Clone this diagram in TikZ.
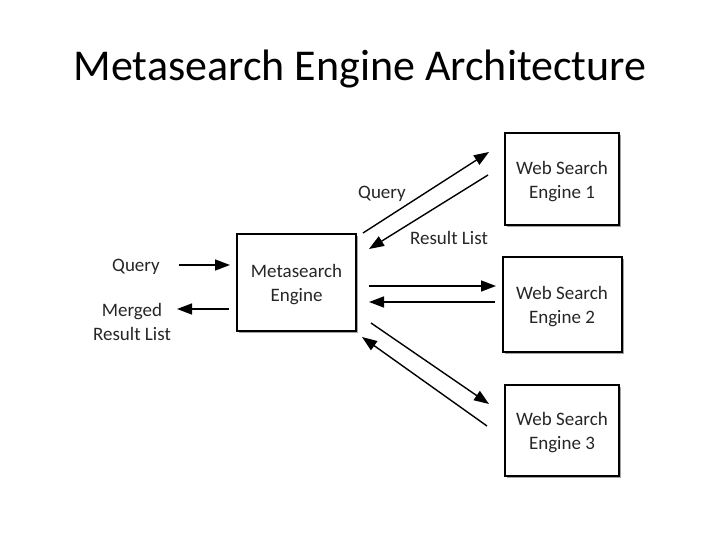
\documentclass[tikz,border=0pt]{standalone}
\usepackage{fontspec}
\setmainfont{Carlito}
\usetikzlibrary{arrows.meta,shadows}
\begin{document}
\begin{tikzpicture}[x=1pt,y=-1pt,
  box/.style={draw=black,line width=1.3pt,fill=white,
    drop shadow={shadow xshift=2pt,shadow yshift=-2pt,fill=black!45,opacity=0.8}},
  lbl/.style={font=\fontsize{19}{24}\selectfont,align=center,text=black!85},
  arr/.style={line width=1.4pt,-{Triangle[length=15pt,width=11pt]}}]
\useasboundingbox (0,0) rectangle (720,540);
\node[font=\fontsize{44}{52}\selectfont] (title) at (360,69) {Metasearch Engine Architecture};
\path[box] (237,234) rectangle (356,331);
\node[lbl] (meta) at (296.5,285) {Metasearch\\Engine};
\path[box] (505,133) rectangle (619,225);
\node[lbl] (w1) at (562,182) {Web Search\\Engine 1};
\path[box] (503,257) rectangle (622,352);
\node[lbl] (w2) at (562,307) {Web Search\\Engine 2};
\path[box] (505,385) rectangle (619,476);
\node[lbl] (w3) at (562,433) {Web Search\\Engine 3};
\node[lbl] (q0) at (136,267) {Query};
\node[lbl] (m0) at (132,322) {Merged\\Result List};
\node[lbl] (q1) at (382,194) {Query};
\node[lbl] (r1) at (449,238) {Result List};
% coordinates
\coordinate (a1) at (179,265); \coordinate (a2) at (230,265);
\coordinate (b1) at (229,309); \coordinate (b2) at (177,309);
\coordinate (c1) at (363,233); \coordinate (c2) at (489,152);
\coordinate (d1) at (488,175); \coordinate (d2) at (369,249);
\coordinate (e1) at (369,286); \coordinate (e2) at (496,286);
\coordinate (f1) at (495,302); \coordinate (f2) at (369,302);
\coordinate (g1) at (371,323); \coordinate (g2) at (489,404);
\coordinate (h1) at (487,426); \coordinate (h2) at (362,337);
\draw[arr] (a1) -- (a2);
\draw[arr] (b1) -- (b2);
\draw[arr] (c1) -- (c2);
\draw[arr] (d1) -- (d2);
\draw[arr] (e1) -- (e2);
\draw[arr] (f1) -- (f2);
\draw[arr] (g1) -- (g2);
\draw[arr] (h1) -- (h2);
\end{tikzpicture}
\end{document}
